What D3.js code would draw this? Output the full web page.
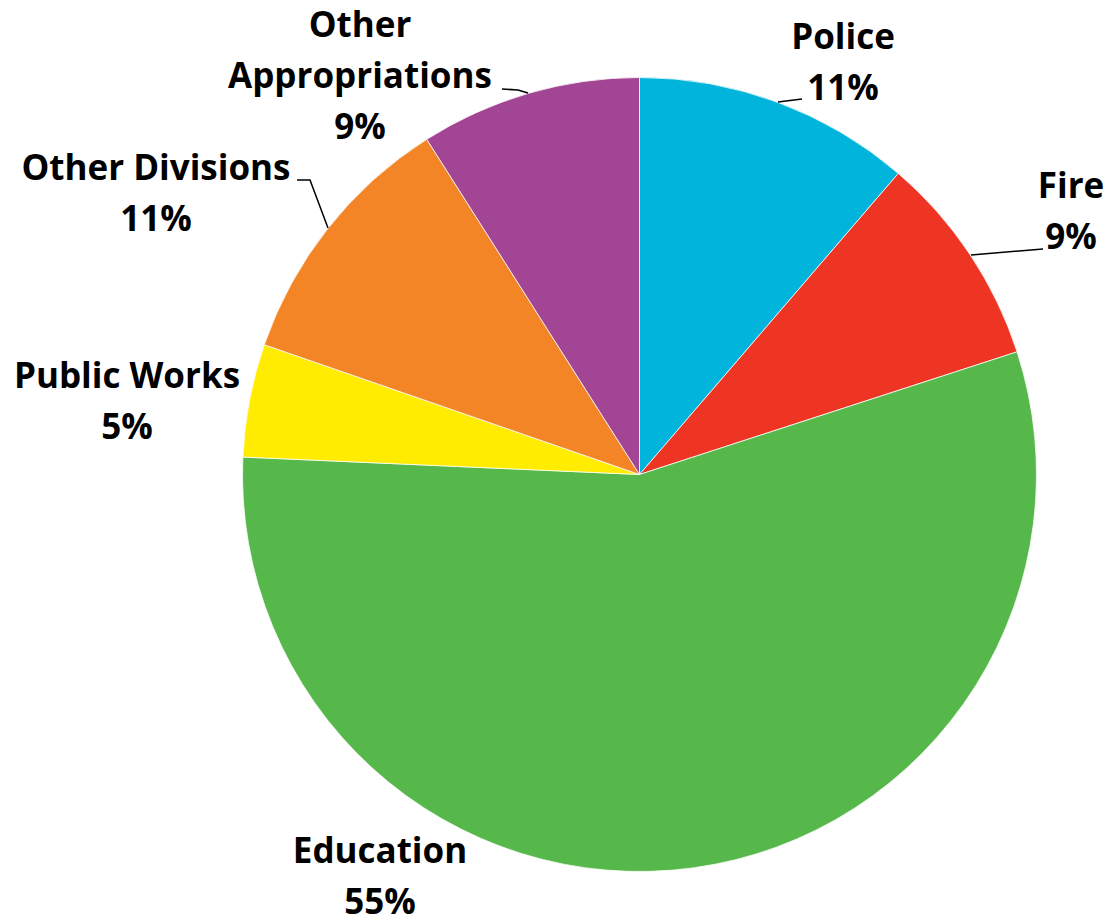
<!DOCTYPE html>
<html>
<head>
<meta charset="utf-8">
<script src="https://cdn.jsdelivr.net/npm/d3@7"></script>
<style>
  body { margin: 0; background: #fff; }
  text { font-family: "Open Sans", Lato, sans-serif; font-weight: 700; fill: #000; }
</style>
</head>
<body>
<div id="chart"></div>
<script>
var w = 1111;
var h = 920;
var cx = 639.5;
var cy = 474.5;
var radius = 397;

var categories = ["Police", "Fire", "Education", "Public Works", "Other Divisions", "Other Appropriations"];
var values = [11.3, 8.7, 55.7, 4.6, 10.7, 9.0];
var pctLabels = ["11%", "9%", "55%", "5%", "11%", "9%"];
var colors = ["#00b4dc", "#ee3524", "#56b84a", "#ffec00", "#f38526", "#a34595"];

// label text lines (name lines + pct), and where each block is placed
var nameLines = [["Police"], ["Fire"], ["Education"], ["Public Works"], ["Other Divisions"], ["Other", "Appropriations"]];
var labelAnchor = [[843, 49], [1071, 198], [380, 863], [127, 388], [156, 180], [360, 37]];
var leaders = [
  [[778, 102], [802, 99]],
  [[971, 255], [1043, 249]],
  null,
  null,
  [[297, 180], [310, 180], [328, 228]],
  [[502, 89], [518, 90], [528, 93]]
];
var lineGap = 51;

var svg = d3.select("#chart").append("svg").attr("width", w).attr("height", h);

var pie = d3.pie().sort(null).value(function (d) { return d; });
var arc = d3.arc().innerRadius(0).outerRadius(radius);

var g = svg.append("g").attr("transform", "translate(" + cx + "," + cy + ")");
g.selectAll("path")
  .data(pie(values))
  .enter()
  .append("path")
  .attr("d", arc)
  .attr("fill", function (d, i) { return colors[i]; })
  .attr("stroke", "#fff")
  .attr("stroke-width", 0.75);

var line = d3.line();
svg.selectAll("path.leader")
  .data(leaders.filter(function (d) { return d; }))
  .enter()
  .append("path")
  .attr("class", "leader")
  .attr("d", line)
  .attr("fill", "none")
  .attr("stroke", "#000")
  .attr("stroke-width", 1.5);

categories.forEach(function (c, i) {
  var t = svg.append("text")
    .attr("text-anchor", "middle")
    .attr("font-size", 35);
  var lines = nameLines[i].concat([pctLabels[i]]);
  lines.forEach(function (s, k) {
    t.append("tspan")
      .attr("x", labelAnchor[i][0])
      .attr("y", labelAnchor[i][1] + k * lineGap)
      .text(s);
  });
});
</script>
</body>
</html>
